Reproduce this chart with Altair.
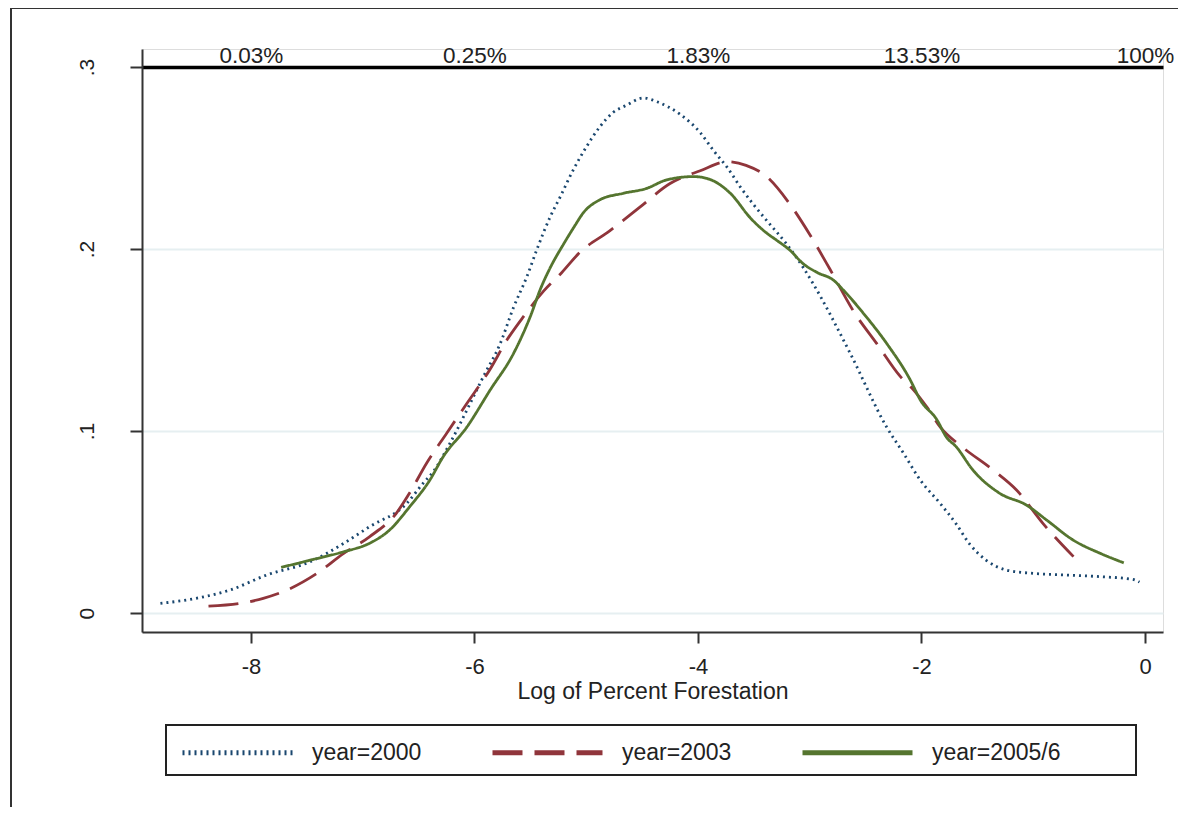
import altair as alt
import pandas as pd

# ---------------- data ----------------
series_names = ["year=2000", "year=2003", "year=2005/6"]
series_colors = ["#1a476f", "#90353b", "#55752f"]
series_dashes = [[2, 4], [30, 12], [1, 0]]

x_2000 = [-8.81, -8.49, -8.19, -7.86, -7.47, -7.17, -6.94, -6.61, -6.46, -6.37,
          -6.22, -6.04, -5.92, -5.77, -5.65, -5.53, -5.44, -5.32, -5.23, -5.12,
          -5.00, -4.88, -4.76, -4.64, -4.49, -4.37, -4.16, -3.98, -3.86, -3.74,
          -3.62, -3.51, -3.39, -3.21, -3.06, -2.97, -2.64, -2.31, -2.16, -2.01,
          -1.83, -1.69, -1.57, -1.42, -1.24, -1.00, -0.70, -0.40, -0.11, -0.05]
y_2000 = [0.0053, 0.0081, 0.0126, 0.0209, 0.0282, 0.0383, 0.0474, 0.0600, 0.0713, 0.0776,
          0.0932, 0.115, 0.130, 0.148, 0.168, 0.185, 0.200, 0.218, 0.229, 0.243,
          0.256, 0.267, 0.275, 0.279, 0.283, 0.281, 0.274, 0.264, 0.254, 0.245,
          0.234, 0.225, 0.216, 0.203, 0.190, 0.181, 0.143, 0.102, 0.0877, 0.073,
          0.060, 0.049, 0.038, 0.029, 0.0236, 0.0218, 0.0209, 0.0200, 0.0185, 0.017]

x_2003 = [-8.38, -8.10, -7.89, -7.68, -7.41, -7.17, -6.94, -6.70, -6.58, -6.43,
          -6.25, -6.07, -5.86, -5.71, -5.56, -5.38, -5.22, -5.06, -4.79, -4.52,
          -4.25, -3.98, -3.74, -3.57, -3.39, -3.17, -3.00, -2.82, -2.61, -2.40,
          -2.19, -2.07, -1.95, -1.83, -1.63, -1.36, -1.15, -0.91, -0.64]
y_2003 = [0.0038, 0.0053, 0.0081, 0.0126, 0.0218, 0.0328, 0.0419, 0.0548, 0.066, 0.0822,
          0.0987, 0.115, 0.134, 0.150, 0.163, 0.177, 0.187, 0.198, 0.210, 0.223,
          0.236, 0.243, 0.248, 0.246, 0.240, 0.224, 0.208, 0.189, 0.166, 0.148,
          0.130, 0.1225, 0.113, 0.102, 0.091, 0.0786, 0.0676, 0.049, 0.031]

x_2005 = [-7.73, -7.44, -7.17, -6.94, -6.76, -6.58, -6.40, -6.28, -6.07, -5.86,
          -5.65, -5.50, -5.41, -5.32, -5.20, -5.10, -5.03, -4.88, -4.67, -4.46,
          -4.28, -4.04, -3.92, -3.71, -3.53, -3.39, -3.30, -3.18, -3.06, -2.93,
          -2.79, -2.70, -2.52, -2.31, -2.10, -2.01, -1.86, -1.78, -1.69, -1.54,
          -1.30, -1.06, -0.88, -0.64, -0.40, -0.19]
y_2005 = [0.0251, 0.0295, 0.0337, 0.0383, 0.0456, 0.0584, 0.073, 0.0859, 0.102, 0.1225,
          0.1427, 0.163, 0.178, 0.190, 0.203, 0.213, 0.2196, 0.227, 0.2306, 0.2333,
          0.238, 0.2398, 0.2388, 0.2306, 0.217, 0.209, 0.205, 0.1995, 0.192, 0.187,
          0.183, 0.1775, 0.1647, 0.148, 0.128, 0.117, 0.106, 0.0969, 0.0914, 0.0786,
          0.0658, 0.0593, 0.0511, 0.040, 0.0328, 0.0276]

bottom_ticks = [-8, -6, -4, -2, 0]
top_labels = ["0.03%", "0.25%", "1.83%", "13.53%", "100%"]
y_ticks = [0, 0.1, 0.2, 0.3]

rows = []
for name, xs, ys in zip(series_names, [x_2000, x_2003, x_2005], [y_2000, y_2003, y_2005]):
    for i, (xv, yv) in enumerate(zip(xs, ys)):
        rows.append({"series": name, "x": xv, "y": yv, "order": i})
df = pd.DataFrame(rows)
top_df = pd.DataFrame({"x": bottom_ticks, "lab": top_labels})
one = pd.DataFrame({"a": [0]})

# ---------------- layout ----------------
W, H = 1021, 583
X_DOM = [-8.975, 0.161]
Y_DOM = [-0.0104, 0.3099]
FONT = "Liberation Sans"
AX = "#333333"
TXT = "#222222"

xscale = alt.Scale(domain=X_DOM, nice=False, zero=False)
yscale = alt.Scale(domain=Y_DOM, nice=False, zero=False)

legend = alt.Legend(
    orient="none", legendX=38, legendY=646, direction="horizontal", columns=3,
    title=None, symbolType="stroke", symbolSize=12100, symbolStrokeWidth=5,
    labelFontSize=23, labelFont=FONT, labelColor=TXT, labelOffset=17,
    columnPadding=60, padding=0,
)

lines = alt.Chart(df).mark_line(strokeWidth=2.8, interpolate="monotone", strokeCap="butt").encode(
    x=alt.X("x:Q", scale=xscale, axis=alt.Axis(
        values=bottom_ticks, labelExpr="'' + datum.value", title="Log of Percent Forestation",
        orient="bottom", grid=False, tickSize=11, tickWidth=2, tickColor=AX,
        domainColor=AX, domainWidth=2, labelPadding=13, labelFontSize=22,
        labelColor=TXT, labelFont=FONT, titleFont=FONT, titleFontSize=23,
        titleFontWeight="normal", titleColor=TXT, titlePadding=3)),
    y=alt.Y("y:Q", scale=yscale, axis=alt.Axis(
        values=y_ticks, labelExpr="datum.value == 0 ? '0' : '.' + round(datum.value*10)",
        labelAngle=270, labelAlign="center", labelBaseline="bottom", labelPadding=33,
        tickSize=12, tickWidth=2, tickColor=AX, domainColor=AX, domainWidth=2,
        grid=True, gridColor="#e6eff1", gridWidth=2, title=None, labelFontSize=21,
        labelColor=TXT, labelFont=FONT)),
    color=alt.Color("series:N", scale=alt.Scale(domain=series_names, range=series_colors), legend=legend),
    strokeDash=alt.StrokeDash("series:N", scale=alt.Scale(domain=series_names, range=series_dashes), legend=legend),
    order="order:Q",
)

top_axis = alt.Chart(top_df).mark_point(opacity=0).encode(
    x=alt.X("x:Q", scale=xscale, axis=alt.Axis(
        orient="top", values=bottom_ticks,
        labelExpr="datum.value == -8 ? '%s' : datum.value == -6 ? '%s' : datum.value == -4 ? '%s' : datum.value == -2 ? '%s' : '%s'" % tuple(top_labels),
        offset=-18, ticks=False, domainColor="#000000", domainWidth=3.5, labelPadding=0,
        labelFontSize=22.5, labelColor=TXT, labelFont=FONT, title=None, grid=False)),
    y=alt.value(0),
)

frame_left = alt.Chart(one).mark_rule(color="#333333", strokeWidth=2).encode(
    x=alt.value(-131), y=alt.value(-41), y2=alt.value(900))
frame_top = alt.Chart(one).mark_rule(color="#333333", strokeWidth=2).encode(
    x=alt.value(-131), x2=alt.value(1200), y=alt.value(-41))
legend_box = alt.Chart(one).mark_rect(fillOpacity=0, stroke="#222222", strokeWidth=2).encode(
    x=alt.value(24), x2=alt.value(994), y=alt.value(676), y2=alt.value(726))

chart = alt.layer(frame_left, frame_top, legend_box, lines, top_axis).resolve_scale(
    x="shared").resolve_axis(x="independent").properties(
    width=W, height=H,
    autosize=alt.AutoSizeParams(type="none"),
    padding={"left": 134, "top": 41, "right": 15, "bottom": 175},
    background="white",
).configure_view(stroke=None).configure(font=FONT)

chart.save("out.html", embed_options={"renderer": "svg", "actions": False})
